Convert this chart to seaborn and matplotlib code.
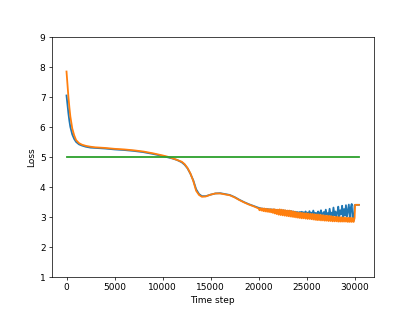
import numpy as np
import pandas as pd
from matplotlib import pyplot as plt
import seaborn as sns


# time steps for the smooth part of the curves
steps_smooth = [0, 100, 200, 300, 400, 600, 800, 1000, 1300, 1600, 2000, 2500, 3000,
                4000, 5000, 6000, 7000, 8000, 9000, 10000, 10500, 11000, 11500, 12000,
                12300, 12600, 12900, 13200, 13500, 13800, 14100, 14500, 15000, 15500,
                16000, 16500, 17000, 17500, 18000, 18500, 19000, 19500, 20000]
loss_a_smooth = [7.05, 6.75, 6.45, 6.20, 6.00, 5.75, 5.60, 5.50, 5.42, 5.38, 5.34, 5.31, 5.30,
                 5.28, 5.25, 5.23, 5.20, 5.16, 5.10, 5.03, 4.99, 4.95, 4.90, 4.82,
                 4.74, 4.62, 4.44, 4.22, 3.92, 3.76, 3.69, 3.69, 3.74, 3.78,
                 3.79, 3.76, 3.73, 3.66, 3.57, 3.49, 3.42, 3.36, 3.30]
loss_b_smooth = [7.85, 7.40, 7.00, 6.65, 6.35, 5.95, 5.72, 5.56, 5.46, 5.41, 5.37, 5.34, 5.32,
                 5.30, 5.27, 5.25, 5.22, 5.18, 5.12, 5.05, 5.01, 4.96, 4.90, 4.84,
                 4.76, 4.63, 4.45, 4.20, 3.87, 3.73, 3.67, 3.68, 3.74, 3.78,
                 3.78, 3.75, 3.72, 3.65, 3.56, 3.48, 3.41, 3.35, 3.28]

# noisy tail, every 100 steps, plus the jump at the end
steps_tail = list(range(20100, 30001, 100)) + [30050, 30450]
loss_a_tail = [3.29, 3.28, 3.28, 3.27, 3.27, 3.26, 3.26, 3.25, 3.26, 3.25,
               3.25, 3.24, 3.25, 3.24, 3.24, 3.23, 3.24, 3.23, 3.23, 3.22,
               3.22, 3.22, 3.21, 3.22, 3.21, 3.20, 3.21, 3.20, 3.19, 3.20,
               3.19, 3.18, 3.19, 3.18, 3.17, 3.18, 3.16, 3.17, 3.15, 3.16,
               3.15, 3.14, 3.16, 3.13, 3.17, 3.13, 3.15, 3.12, 3.18, 3.12,
               3.14, 3.11, 3.19, 3.10, 3.14, 3.10, 3.21, 3.09, 3.13, 3.12,
               3.09, 3.18, 3.07, 3.12, 3.22, 3.06, 3.10, 3.16, 3.05, 3.24,
               3.07, 3.12, 3.04, 3.27, 3.06, 3.14, 3.03, 3.31, 3.05, 3.18,
               3.02, 3.12, 3.34, 3.00, 3.22, 3.08, 3.37, 2.98, 3.26, 3.04,
               3.39, 3.00, 3.20, 3.41, 2.97, 3.30, 3.43, 2.90, 2.86, 3.38,
               3.40, 3.40]
loss_b_tail = [3.22, 3.29, 3.21, 3.28, 3.19, 3.28, 3.18, 3.27, 3.17, 3.26,
               3.16, 3.26, 3.15, 3.25, 3.13, 3.26, 3.11, 3.24, 3.09, 3.24,
               3.07, 3.25, 3.06, 3.24, 3.05, 3.23, 3.04, 3.22, 3.03, 3.21,
               3.02, 3.21, 3.01, 3.20, 3.00, 3.18, 2.99, 3.17, 2.98, 3.15,
               2.97, 3.14, 2.96, 3.14, 2.95, 3.13, 2.95, 3.12, 2.94, 3.12,
               2.93, 3.11, 2.93, 3.10, 2.92, 3.10, 2.91, 3.09, 2.90, 3.08,
               2.89, 3.08, 2.89, 3.07, 2.88, 3.06, 2.88, 3.05, 2.87, 3.04,
               2.87, 3.04, 2.86, 3.03, 2.86, 3.02, 2.85, 3.01, 2.85, 3.00,
               2.85, 3.00, 2.84, 2.99, 2.84, 2.99, 2.84, 2.98, 2.84, 2.98,
               2.84, 2.97, 2.83, 2.97, 2.83, 2.97, 2.83, 2.96, 2.83, 2.96,
               3.40, 3.40]

threshold_steps = [0, 30450]
threshold_loss = [5.0, 5.0]


def plot_loss(fig_name):
    steps = steps_smooth + steps_tail
    df = pd.DataFrame({'step': steps,
                       'loss_a': loss_a_smooth + loss_a_tail,
                       'loss_b': loss_b_smooth + loss_b_tail})

    fig, ax = plt.subplots(figsize=(6.4, 4.8), dpi=64.85)
    sns.lineplot(data=df, x='step', y='loss_a', color='#1f77b4', linewidth=2.0,
                 estimator=None, ax=ax)
    sns.lineplot(data=df, x='step', y='loss_b', color='#ff7f0e', linewidth=2.0,
                 estimator=None, ax=ax)
    sns.lineplot(x=threshold_steps, y=threshold_loss, color='#2ca02c', linewidth=2.0,
                 estimator=None, ax=ax)

    ax.set_ylim(1, 9)
    ax.set_xlabel('Time step')
    ax.set_ylabel('Loss')
    fig.savefig(fig_name)


if __name__ == '__main__':
    plot_loss('out.png')
